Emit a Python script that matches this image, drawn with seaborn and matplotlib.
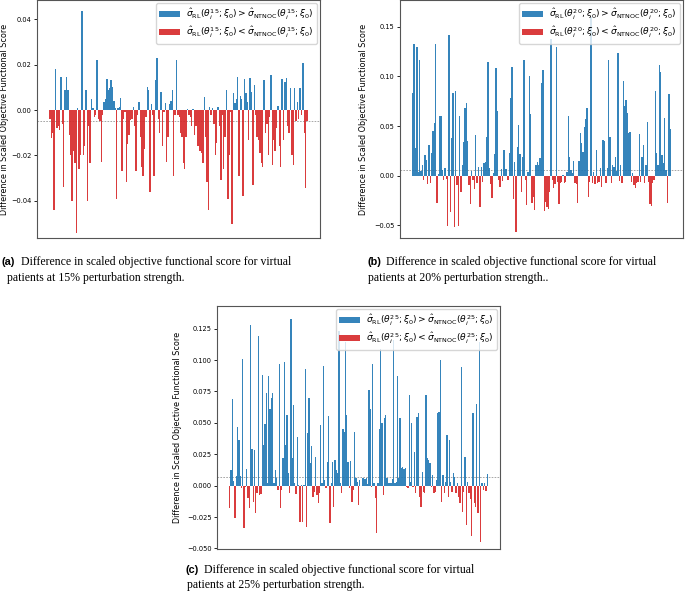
import numpy as np
import matplotlib
import seaborn as sns
from matplotlib import pyplot as plt
from matplotlib.ticker import MultipleLocator

matplotlib.use("Agg")

# difference in scaled objective functional score per virtual patient
diff_15 = [
    -0.004, -0.0125, -0.010, -0.044, 0.018, -0.008, -0.007, -0.009, 0.0144, -0.006,
    -0.034, 0.009, 0.0144, 0.009, -0.011, -0.020, -0.040, -0.018, -0.0235, -0.054,
    0.001, -0.026, -0.020, 0.0437, -0.020, -0.016, 0.0088, -0.040, -0.007, -0.0235,
    0.0047, 0.001, -0.003, -0.002, 0.022, -0.004, -0.005, -0.023, -0.002, 0.0035,
    0.005, 0.0135, 0.009, 0.0095, 0.013, 0.010, 0.004, 0.001, -0.039, 0.001,
    0.0015, 0.0055, -0.027, -0.004, -0.001, -0.0316, -0.015, -0.011, -0.0045, -0.004,
    0.0012, -0.007, -0.027, -0.002, 0.0035, -0.012, -0.025, -0.029, -0.017, -0.003,
    0.010, 0.009, -0.036, 0.0025, -0.002, -0.029, 0.013, 0.023, -0.004, -0.010,
    0.008, -0.016, -0.001, 0.003, -0.023, -0.012, 0.0025, 0.004, 0.009, -0.029,
    -0.002, 0.022, -0.002, -0.003, -0.010, -0.012, -0.0235, -0.026, -0.012, 0.0005,
    -0.002, -0.003, -0.007, 0.0005, -0.011, -0.007, -0.016, -0.016, -0.018, -0.019,
    -0.0235, 0.0056, -0.012, -0.0316, -0.044, 0.0012, -0.002, 0.001, -0.006, -0.020,
    -0.0147, 0.0012, -0.007, -0.031, -0.002, -0.026, -0.012, 0.009, -0.039, -0.020,
    -0.001, -0.050, 0.0073, 0.003, 0.0047, 0.0144, -0.029, 0.006, 0.005, -0.038,
    0.0138, 0.0075, 0.0037, -0.013, 0.014, 0.008, -0.033, 0.011, -0.002, -0.012,
    -0.013, -0.019, -0.0235, -0.025, 0.013, -0.010, -0.006, -0.020, -0.003, 0.0155,
    -0.024, -0.013, -0.018, -0.008, 0.0018, -0.016, -0.025, 0.0135, -0.013, 0.0125,
    0.014, -0.007, -0.010, 0.0096, -0.020, -0.024, 0.0096, -0.005, 0.0037, -0.004,
    0.0096, -0.002, 0.0205, -0.010, -0.0345, -0.005,
]

diff_20 = [
    0.083, 0.133, 0.0276, 0.130, 0.004, 0.117, 0.005, 0.011, -0.004, 0.021,
    0.016, -0.008, 0.031, -0.007, 0.023, 0.045, 0.053, 0.133, -0.027, 0.0017,
    0.060, 0.060, 0.0057, -0.004, 0.008, -0.0037, -0.051, 0.142, -0.037, 0.0376,
    0.083, -0.052, 0.085, -0.009, -0.051, 0.060, -0.016, 0.011, 0.034, 0.068,
    0.0735, 0.035, -0.009, -0.028, 0.005, -0.0044, -0.013, 0.041, -0.007, 0.009,
    -0.031, 0.009, -0.006, 0.0125, 0.014, 0.039, 0.115, 0.0074, -0.008, -0.022,
    0.003, 0.022, 0.109, 0.065, -0.0044, -0.011, 0.007, -0.0054, 0.026, 0.007,
    0.007, -0.0044, 0.0225, 0.078, 0.110, -0.023, 0.014, -0.057, 0.029, 0.051,
    0.022, -0.016, 0.019, 0.117, -0.0044, -0.029, 0.004, 0.100, 0.062, -0.027,
    -0.021, -0.035, 0.011, 0.014,
    0.011, 0.018, 0.093, 0.107, -0.036, -0.026, -0.031, -0.033, -0.016, 0.138,
    -0.0044, -0.0128, -0.0084, 0.130, -0.006, -0.028, -0.007, -0.006, 0.001, -0.007,
    -0.006, 0.0034, 0.060, 0.019, 0.0057, 0.0024, 0.0145, -0.0077, -0.0087, -0.027,
    0.015, 0.043, 0.033, 0.024, 0.049, 0.057, 0.068, -0.021, -0.006, 0.160,
    -0.007, 0.004, -0.0084, 0.026, -0.0077, -0.006, 0.0074, -0.011, 0.036, 0.035,
    -0.007, 0.0074, 0.117, 0.039, -0.007, 0.011, 0.009, 0.019, 0.005, 0.124,
    -0.005, 0.011, -0.007, 0.095, 0.070, 0.076, 0.063, 0.043, 0.044, -0.006,
    0.0024, -0.0094, -0.0128, -0.0077, -0.006, 0.042, -0.006, 0.019, 0.031, -0.0077,
    0.011, 0.054, -0.006, -0.028, -0.030, -0.0074, -0.0044, 0.085, 0.0225, 0.011,
    0.112, 0.104, 0.021, 0.0124, 0.058, 0.0057, -0.027, 0.082, 0.047,
]

diff_25 = [
    -0.018, 0.0125, 0.069, 0.0037, -0.026, 0.0077, 0.047, 0.036, 0.0077, -0.0021,
    0.101, -0.034, -0.001, 0.013, -0.010, -0.018, 0.128, 0.029, -0.0127, 0.0283,
    -0.022, -0.006, 0.119, -0.0075, -0.0066, 0.088, 0.032, 0.049, 0.0734, 0.0019,
    0.087, 0.061, 0.070, 0.0734, 0.0019, 0.0125, 0.006, -0.0035, 0.097, -0.018,
    -0.0035, 0.022, 0.0985, 0.032, 0.056, 0.010, -0.006, 0.133, 0.022, 0.064,
    0.0019, -0.007, 0.039, 0.0005, -0.029, 0.0005, -0.029, 0.0005, 0.0925, -0.033,
    0.0416, 0.070, 0.018, 0.0315, -0.009, -0.005, 0.023, -0.0075, -0.014, -0.006,
    0.048, 0.0024, 0.095, 0.0045, -0.0021, 0.019, 0.0557, -0.0295, 0.0019, 0.019,
    -0.017, 0.0205, 0.0125, 0.010, 0.123, 0.0024, -0.006, 0.045, 0.043, 0.114,
    0.056, 0.019, -0.002, 0.0195, -0.0127, -0.0035, 0.043, 0.006, 0.0032, -0.015,
    0.0045, -0.0003,
    0.006, 0.0059, 0.005, 0.006, 0.0013, 0.076, 0.061, -0.0008, 0.097, 0.0019,
    -0.010, -0.038, 0.0024, 0.045, 0.109, 0.050, -0.0075, 0.0535, 0.056, 0.0059,
    0.0019, 0.0019, 0.0019, 0.005, 0.116, 0.0019, 0.0032, 0.087, 0.006, 0.0535,
    0.0138, 0.015, 0.013, 0.0138, -0.0008, -0.0021, 0.072, 0.0032, 0.0495, -0.0008,
    0.027, -0.006, 0.055, 0.0575, -0.009, -0.017, 0.011, -0.005, -0.0056, 0.072,
    0.0217, 0.0205, 0.018, -0.0008, 0.0085, -0.006, -0.0048, 0.0045, 0.058, 0.059,
    0.100, -0.0127, 0.0085, -0.006, 0.0032, 0.040, -0.009, 0.036, 0.0032, -0.0048,
    0.010, 0.0072, -0.006, 0.0024, -0.009, -0.014, 0.0945, -0.0206, -0.0048, 0.023,
    -0.031, 0.0032, -0.006, -0.011, -0.040, 0.0575, -0.014, -0.017, 0.065, -0.022,
    0.114, -0.045, 0.0019, -0.0035, 0.0019, -0.004, 0.009,
]

# dotted reference line in each panel
ref_15 = -0.0048
ref_20 = 0.0057
ref_25 = 0.0072

BLUE = '#1f77b4'
RED = '#d62728'


def legend_labels(pct):
    pos = r'$\hat{\sigma}_{\mathrm{RL}}(\theta_i^{%d};\xi_0) > \hat{\sigma}_{\mathrm{NTNOC}}(\theta_i^{%d};\xi_0)$' % (pct, pct)
    neg = r'$\hat{\sigma}_{\mathrm{RL}}(\theta_i^{%d};\xi_0) < \hat{\sigma}_{\mathrm{NTNOC}}(\theta_i^{%d};\xi_0)$' % (pct, pct)
    return pos, neg


def draw_panel(fig, rect, data, pct, ref, ylim, step, label_x):
    ax = fig.add_axes(rect)
    vals = np.array(data)
    pos, neg = legend_labels(pct)
    hue = np.where(vals > 0, pos, neg)
    sns.barplot(x=np.arange(len(vals)), y=vals, hue=hue, hue_order=[pos, neg],
                palette={pos: BLUE, neg: RED}, dodge=False, width=1.0,
                errorbar=None, saturation=1, alpha=0.9,
                linewidth=0, ax=ax)
    n = len(vals)
    m = 0.047 * n
    ax.set_xlim(-0.5 - m, n - 0.5 + m)
    ax.set_ylim(*ylim)
    ax.axhline(ref, color='#999999', lw=0.6, ls=(0, (2, 1.5)), zorder=0.5)
    ax.set_xticks([])
    ax.set_xlabel('')
    ax.yaxis.set_major_locator(MultipleLocator(step))
    ax.tick_params(axis='y', labelsize=4.8, length=2.5, width=0.6, pad=1.5)
    ax.set_ylabel('Difference in Scaled Objective Functional Score', fontsize=5.8)
    ax.yaxis.set_label_coords(label_x, 0.5)
    for s in ax.spines.values():
        s.set_color('#555555')
        s.set_linewidth(0.8)
    ax.legend(loc='upper right', fontsize=6.6, borderaxespad=0.3,
              handlelength=2.2, labelspacing=0.35, borderpad=0.4,
              handletextpad=0.7, fancybox=True)
    return ax


def caption(fig, x, y, tag, line1, line2, indent, gap=16):
    W, H = 685, 593
    fig.text(x / W, 1 - y / H, tag, fontsize=7.8, fontweight='bold',
             family='Liberation Sans', va='center', ha='left')
    fig.text((x + 19) / W, 1 - y / H, line1, fontsize=8.5,
             family='Liberation Serif', va='center', ha='left')
    fig.text((x + indent) / W, 1 - (y + gap) / H, line2, fontsize=8.5,
             family='Liberation Serif', va='center', ha='left')


fig = plt.figure(figsize=(6.85, 5.93), dpi=100)
W, H = 685, 593

draw_panel(fig, [37 / W, 1 - 238 / H, 283 / W, 238 / H], diff_15, 15, ref_15,
           (-0.0563, 0.0484), 0.02, -0.098)
draw_panel(fig, [400 / W, 1 - 238 / H, 283 / W, 238 / H], diff_20, 20, ref_20,
           (-0.0627, 0.177), 0.05, -0.112)
draw_panel(fig, [217 / W, 1 - 549 / H, 283 / W, 243 / H], diff_25, 25, ref_25,
           (-0.0504, 0.143), 0.025, -0.122)

caption(fig, 2, 262, '(a)', 'Difference in scaled objective functional score for virtual',
        'patients at 15% perturbation strength.', 5)
caption(fig, 367, 262, '(b)', 'Difference in scaled objective functional score for virtual',
        'patients at 20% perturbation strength..', 1)
caption(fig, 185, 570, '(c)', 'Difference in scaled objective functional score for virtual',
        'patients at 25% perturbation strength.', 2, gap=15)

plt.savefig('out.png', dpi=100)
